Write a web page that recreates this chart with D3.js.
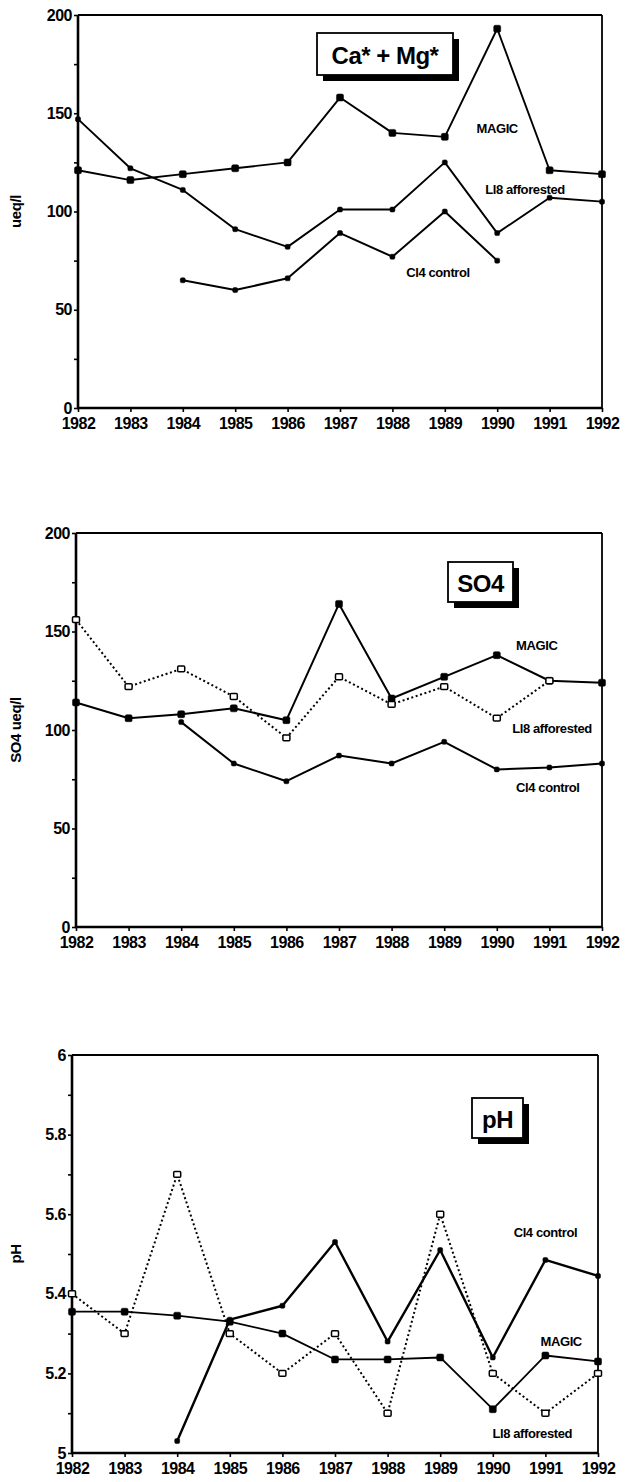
<!DOCTYPE html>
<html>
<head>
<meta charset="utf-8">
<script src="https://cdn.jsdelivr.net/npm/d3@7"></script>
<style>
  body { margin: 0; background: #fff; }
  svg { display: block; font-family: "Liberation Sans", Arial, sans-serif; }
  .tick text { font-weight: bold; font-size: 16px; letter-spacing: -0.5px; fill: #000; }
  .lbl { font-weight: bold; font-size: 13px; letter-spacing: -0.4px; }
</style>
</head>
<body>
<svg id="chart" width="625" height="1482"></svg>
<script>
// years on the x axis
var years = [1982, 1983, 1984, 1985, 1986, 1987, 1988, 1989, 1990, 1991, 1992]

// Ca* + Mg* (ueq/l)
var caMagic = [121, 116, 119, 122, 125, 158, 140, 138, 193, 121, 119]
var caLl8   = [147, 122, 111, 91, 82, 101, 101, 125, 89, 107, 105]
var caCl4   = [null, null, 65, 60, 66, 89, 77, 100, 75, null, null]

// SO4 (ueq/l)
var soMagic = [114, 106, 108, 111, 105, 164, 116, 127, 138, 125, 124]
var soLl8   = [156, 122, 131, 117, 96, 127, 113, 122, 106, 125, null]
var soCl4   = [null, null, 104, 83, 74, 87, 83, 94, 80, 81, 83]

// pH
var phMagic = [5.355, 5.355, 5.345, 5.33, 5.30, 5.235, 5.235, 5.24, 5.11, 5.245, 5.23]
var phLl8   = [5.40, 5.30, 5.70, 5.30, 5.20, 5.30, 5.10, 5.60, 5.20, 5.10, 5.20]
var phCl4   = [null, null, 5.03, 5.335, 5.37, 5.53, 5.28, 5.51, 5.24, 5.485, 5.445]

var concTicks = [0, 25, 50, 75, 100, 125, 150, 175, 200]
var concLabels = [0, 50, 100, 150, 200]
var phTicks = [5, 5.1, 5.2, 5.3, 5.4, 5.5, 5.6, 5.7, 5.8, 5.9, 6]
var phLabels = [5, 5.2, 5.4, 5.6, 5.8, 6]

var svg = d3.select("#chart")

var panels = [
  { left: 78, right: 602, top: 15, bottom: 408, domain: [0, 200],
    ticks: concTicks, labels: concLabels, ylabel: "ueq/l",
    title: "Ca* + Mg*", box: [239, 18, 136, 42],
    series: [
      { name: "MAGIC", values: caMagic, dash: null, mark: "fill", size: 7, width: 1.9, at: [1990, 142] },
      { name: "Ll8 afforested", values: caLl8, dash: null, mark: "fill", size: 5, width: 1.9, at: [1990.53, 111] },
      { name: "Cl4 control", values: caCl4, dash: null, mark: "fill", size: 5, width: 2, at: [1988.87, 69] }
    ] },
  { left: 76, right: 602, top: 533, bottom: 927, domain: [0, 200],
    ticks: concTicks, labels: concLabels, ylabel: "SO4 ueq/l",
    title: "SO4", box: [372, 29, 65, 40],
    series: [
      { name: "MAGIC", values: soMagic, dash: null, mark: "fill", size: 7, width: 2, at: [1990.76, 143] },
      { name: "Ll8 afforested", values: soLl8, dash: "2,2.6", mark: "open", size: 7, width: 2, at: [1991.05, 101] },
      { name: "Cl4 control", values: soCl4, dash: null, mark: "fill", size: 5, width: 2, at: [1990.97, 71] }
    ] },
  { left: 72, right: 598, top: 1055, bottom: 1453, domain: [5, 6],
    ticks: phTicks, labels: phLabels, ylabel: "pH",
    title: "pH", box: [400, 43, 51, 40],
    series: [
      { name: "MAGIC", values: phMagic, dash: null, mark: "fill", size: 7, width: 1.8, at: [1991.3, 5.279] },
      { name: "Ll8 afforested", values: phLl8, dash: "2,2.6", mark: "open", size: 7, width: 2, at: [1990.75, 5.05] },
      { name: "Cl4 control", values: phCl4, dash: null, mark: "fill", size: 5, width: 2.4, at: [1991, 5.553] }
    ] }
]

panels.forEach(function(p){
  var x = d3.scaleLinear().domain([1982, 1992]).range([p.left, p.right])
  var y = d3.scaleLinear().domain(p.domain).range([p.bottom, p.top])
  var g = svg.append("g")

  // frame: top and right thinner
  g.append("line").attr("x1", p.left).attr("x2", p.right).attr("y1", p.top).attr("y2", p.top)
    .attr("stroke", "#000").attr("stroke-width", 1.8)
  g.append("line").attr("x1", p.right).attr("x2", p.right).attr("y1", p.top).attr("y2", p.bottom)
    .attr("stroke", "#000").attr("stroke-width", 1.8)

  var yAxis = d3.axisLeft(y).tickValues(p.ticks).tickSize(4).tickPadding(2)
    .tickFormat(function(d){ return p.labels.some(function(l){ return Math.abs(l - d) < 1e-6 }) ? d3.format("~g")(d) : "" })
  var xAxis = d3.axisBottom(x).tickValues(years).tickSize(4).tickPadding(6).tickFormat(d3.format("d"))

  var ya = g.append("g").attr("transform", "translate(" + p.left + ",0)").call(yAxis)
  var xa = g.append("g").attr("transform", "translate(0," + p.bottom + ")").call(xAxis)
  ya.select(".domain").attr("stroke-width", 2.6).attr("d", "M0," + p.top + "V" + (p.bottom + 1))
  xa.select(".domain").attr("stroke-width", 2.6).attr("d", "M" + (p.left - 1) + ",0H" + p.right)
  ya.selectAll(".tick line").attr("stroke-width", 1.6)
  xa.selectAll(".tick line").attr("stroke-width", 1.6)
  ya.selectAll(".domain, .tick line").attr("stroke", "#000")
  xa.selectAll(".domain, .tick line").attr("stroke", "#000")
  ya.attr("font-family", null).attr("font-size", null)
  xa.attr("font-family", null).attr("font-size", null)

  // y axis title
  g.append("text")
    .attr("transform", "translate(15," + ((p.top + p.bottom) / 2) + ") rotate(-90)")
    .attr("text-anchor", "middle").attr("dominant-baseline", "central")
    .attr("font-weight", "bold").attr("font-size", 15).attr("letter-spacing", -0.4)
    .text(p.ylabel)

  // series
  p.series.forEach(function(s){
    var pts = years.map(function(yr, i){ return { x: yr, v: s.values[i] } })
    var line = d3.line().defined(function(d){ return d.v != null })
      .x(function(d){ return x(d.x) }).y(function(d){ return y(d.v) })
    g.append("path").attr("d", line(pts)).attr("fill", "none").attr("stroke", "#000")
      .attr("stroke-width", s.width).attr("stroke-dasharray", s.dash)
      .attr("stroke-linejoin", "round")
    var ok = pts.filter(function(d){ return d.v != null })
    g.selectAll(null).data(ok).enter().append("rect")
      .attr("x", function(d){ return x(d.x) - s.size / 2 })
      .attr("y", function(d){ return y(d.v) - (s.mark == "open" ? s.size * 0.42 : s.size / 2) })
      .attr("width", s.size)
      .attr("height", s.mark == "open" ? s.size * 0.84 : s.size)
      .attr("rx", s.mark == "open" ? 1 : 1.5)
      .attr("fill", s.mark == "open" ? "#fff" : "#000")
      .attr("stroke", "#000").attr("stroke-width", s.mark == "open" ? 1.5 : 0.5)
    g.append("text").attr("class", "lbl")
      .attr("x", x(s.at[0])).attr("y", y(s.at[1]))
      .attr("text-anchor", "middle").attr("dominant-baseline", "central")
      .text(s.name)
  })

  // title box with drop shadow
  var bx = p.left + p.box[0], by = p.top + p.box[1], bw = p.box[2], bh = p.box[3]
  g.append("rect").attr("x", bx + 6).attr("y", by + 6).attr("width", bw).attr("height", bh).attr("fill", "#000")
  g.append("rect").attr("x", bx).attr("y", by).attr("width", bw).attr("height", bh)
    .attr("fill", "#fff").attr("stroke", "#000").attr("stroke-width", 1.8)
  g.append("text").attr("x", bx + bw / 2).attr("y", by + bh / 2 + 1)
    .attr("text-anchor", "middle").attr("dominant-baseline", "central")
    .attr("font-weight", "bold").attr("font-size", 24).attr("letter-spacing", -0.5)
    .text(p.title)
})
</script>
</body>
</html>
